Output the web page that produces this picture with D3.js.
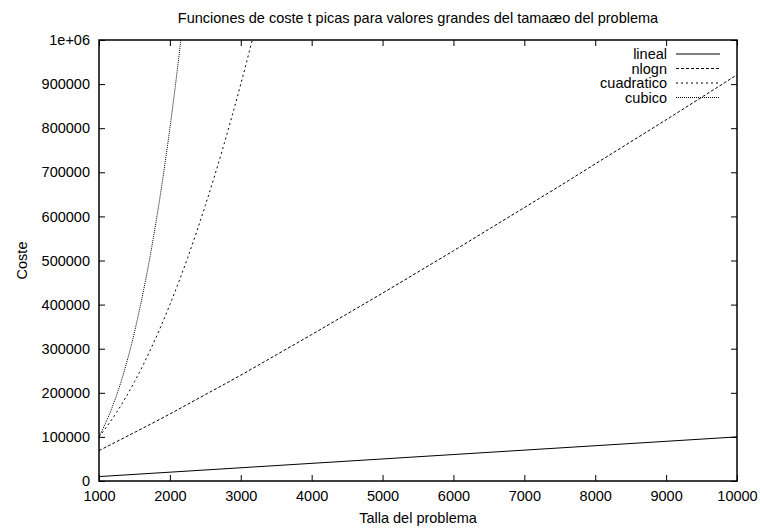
<!DOCTYPE html>
<html>
<head>
<meta charset="utf-8">
<script src="https://cdn.jsdelivr.net/npm/d3@7"></script>
<style>
  body { margin: 0; background: #fff; }
  svg { font-family: "Liberation Sans", Arial, Helvetica, sans-serif; }
</style>
</head>
<body>
<svg width="760" height="531"></svg>
<script>
// values
const seriesNames = ["lineal", "nlogn", "cuadratico", "cubico"];

const linealX = [1000, 10000];
const linealY = [10000, 100000];

const nlognX = [1000, 1500, 2000, 2500, 3000, 3500, 4000, 4500, 5000, 5500, 6000, 6500, 7000, 7500, 8000, 8500, 9000, 9500, 10000];
const nlognY = [69000, 110000, 152000, 196000, 240000, 286000, 332000, 379000, 426000, 474000, 522000, 571000, 620000, 669000, 719000, 769000, 819000, 870000, 921000];

const cuadX = [1000, 1250, 1500, 1750, 2000, 2250, 2500, 2750, 3000, 3250];
const cuadY = [100000, 156000, 225000, 306000, 400000, 506000, 625000, 756000, 900000, 1056000];

const cubX = [1000, 1200, 1400, 1600, 1800, 2000, 2100, 2200];
const cubY = [100000, 173000, 274000, 410000, 583000, 800000, 926000, 1065000];

const xTicks = [1000, 2000, 3000, 4000, 5000, 6000, 7000, 8000, 9000, 10000];
const yTicks = [0, 100000, 200000, 300000, 400000, 500000, 600000, 700000, 800000, 900000, 1000000];

// dash styles per series, same order as seriesNames
const dashes = ["none", "3,2", "2,3", "1,1"];

const fontSize = 14.5;

const margin = { top: 40, right: 23, bottom: 50, left: 99 };
const svg = d3.select("svg"),
   width = +svg.attr("width") - margin.left - margin.right,
   height = +svg.attr("height") - margin.top - margin.bottom;

const x = d3.scaleLinear().domain([1000, 10000]).range([0, width]);
const y = d3.scaleLinear().domain([0, 1000000]).range([height, 0]);

const g = svg.append("g").attr("transform", `translate(${margin.left},${margin.top})`);

g.append("clipPath").attr("id", "clip")
   .append("rect").attr("width", width).attr("height", height);

// ticks pointing inward, mirrored on top and right like gnuplot
const tickLen = 6;
g.append("g")
   .attr("transform", `translate(0,${height})`)
   .call(d3.axisBottom(x).tickValues(xTicks).tickSizeInner(-tickLen).tickSizeOuter(0).tickPadding(10)
      .tickFormat(d3.format("d")))
   .call(a => a.select(".domain").remove());
g.append("g")
   .call(d3.axisTop(x).tickValues(xTicks).tickSizeInner(-tickLen).tickSizeOuter(0).tickFormat(""))
   .call(a => a.select(".domain").remove());
g.append("g")
   .call(d3.axisLeft(y).tickValues(yTicks).tickSizeInner(-tickLen).tickSizeOuter(0).tickPadding(9)
      .tickFormat(d => d === 1000000 ? "1e+06" : d))
   .call(a => a.select(".domain").remove());
g.append("g")
   .attr("transform", `translate(${width},0)`)
   .call(d3.axisRight(y).tickValues(yTicks).tickSizeInner(-tickLen).tickSizeOuter(0).tickFormat(""))
   .call(a => a.select(".domain").remove());

g.selectAll(".tick text").attr("font-size", fontSize).attr("fill", "#000").attr("font-family", null);
g.selectAll(".tick line").attr("stroke", "#000");

// the curves
const line = d3.line().x(d => x(d[0])).y(d => y(d[1])).curve(d3.curveMonotoneX);
const series = [
   d3.zip(linealX, linealY),
   d3.zip(nlognX, nlognY),
   d3.zip(cuadX, cuadY),
   d3.zip(cubX, cubY)
];

g.append("g").attr("clip-path", "url(#clip)")
   .selectAll("path")
   .data(series)
   .enter().append("path")
   .attr("d", line)
   .attr("fill", "none")
   .attr("stroke", "#000")
   .attr("stroke-width", 1)
   .attr("stroke-dasharray", (d, i) => dashes[i]);

// border box
g.append("rect")
   .attr("width", width).attr("height", height)
   .attr("fill", "none").attr("stroke", "#000").attr("stroke-width", 1.5);

// legend
const legend = g.append("g").attr("transform", `translate(${width - 70},14)`);
seriesNames.forEach((name, i) => {
   legend.append("text")
      .attr("x", 0).attr("y", i * 14.5)
      .attr("dy", "0.35em")
      .attr("text-anchor", "end")
      .attr("font-size", fontSize)
      .text(name);
   legend.append("line")
      .attr("x1", 9).attr("x2", 53)
      .attr("y1", i * 14.5).attr("y2", i * 14.5)
      .attr("stroke", "#000")
      .attr("stroke-dasharray", dashes[i]);
});

// title and axis labels
svg.append("text")
   .attr("x", margin.left + width / 2).attr("y", 23)
   .attr("text-anchor", "middle").attr("font-size", fontSize)
   .text("Funciones de coste t picas para valores grandes del tamaæo del problema");

svg.append("text")
   .attr("x", margin.left + width / 2).attr("y", 523)
   .attr("text-anchor", "middle").attr("font-size", fontSize)
   .text("Talla del problema");

svg.append("text")
   .attr("transform", `translate(27,${margin.top + height / 2}) rotate(-90)`)
   .attr("text-anchor", "middle").attr("font-size", fontSize)
   .text("Coste");
</script>
</body>
</html>
